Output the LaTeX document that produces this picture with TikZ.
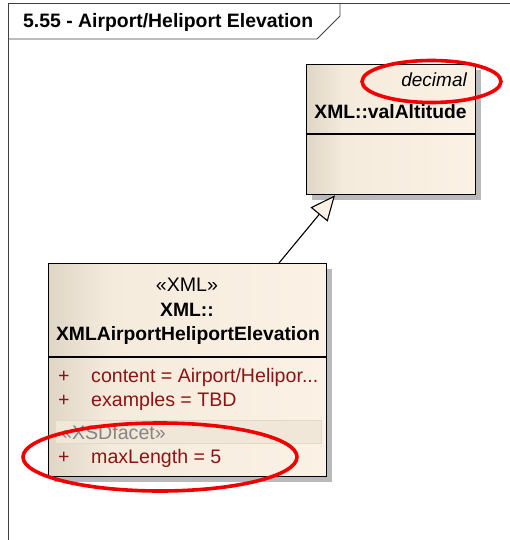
\documentclass[tikz,border=0pt]{standalone}
\usepackage{fontspec}
\setmainfont{Liberation Sans}
\usetikzlibrary{arrows.meta,calc,shadows}
\definecolor{boxleft}{HTML}{E0D6C6}
\definecolor{boxmid}{HTML}{F4EBDD}
\definecolor{boxright}{HTML}{FBF2E5}
\definecolor{attrred}{HTML}{8E1414}
\definecolor{facetfill}{HTML}{F0E7D9}
\definecolor{facetline}{HTML}{E2D9CA}
\definecolor{facetgray}{HTML}{858585}
\definecolor{framegray}{HTML}{404040}
\definecolor{markred}{HTML}{F00000}
% class body: darker strip on the left, light cream for the rest
\pgfdeclarehorizontalshading{classshade}{100bp}{color(0bp)=(boxleft); color(25bp)=(boxleft);
  color(36bp)=(boxmid); color(75bp)=(boxright); color(100bp)=(boxright)}
\newcommand{\namesize}{\fontsize{19.3}{23}\selectfont}
\newcommand{\attrsize}{\fontsize{19.6}{23}\selectfont}
\begin{document}
\begin{tikzpicture}[x=1pt,y=-1pt,
  classbox/.style={draw=black, line width=1.3pt, rectangle, inner sep=0pt,
    shading=classshade, anchor=north west,
    drop shadow={shadow xshift=5pt, shadow yshift=-5pt, fill=black!27, opacity=1}},
  nametext/.style={font=\namesize\bfseries, inner sep=0pt, anchor=base},
  plaintext/.style={font=\attrsize, inner sep=0pt},
  attrtext/.style={font=\attrsize, text=attrred, inner sep=0pt, anchor=base west},
  markring/.style={draw=markred, line width=3.6pt},
  framestroke/.style={draw=framegray, line width=0.9pt}]

\useasboundingbox (0,0) rectangle (510,540);

% diagram frame and its title tab
\draw[framestroke] (8,545) -- (8,3) -- (515,3);
\draw[framestroke] (8,39) -- (317,39) -- (340,16) -- (340,3);
\node[anchor=base west, font=\fontsize{19.4}{23}\selectfont\bfseries, inner sep=0pt]
  (title) at (23,27.3) {5.55 - Airport/Heliport Elevation};

% parent class
\node[classbox, minimum width=169pt, minimum height=130pt] (upper) at (306,64) {};
\draw[line width=1.3pt] ($(upper.north west)+(0,70)$) -- ($(upper.north east)+(0,70)$);
\node[plaintext, font=\fontsize{19}{23}\selectfont\itshape, anchor=base east] (uppertag) at (467,86.7) {decimal};
\node[nametext] (uppername) at (390.5,118.3) {XML::valAltitude};

% derived class
\node[classbox, minimum width=278pt, minimum height=213pt] (lower) at (48,263) {};
\draw[line width=1.3pt] ($(lower.north west)+(0,94)$) -- ($(lower.north east)+(0,94)$);
\node[plaintext, anchor=base] (stereo) at (187,291.7) {«XML»};
\node[nametext] (pkg) at (187,316.7) {XML::};
\node[nametext] (lowername) at (188,340) {XMLAirportHeliportElevation};

\node[attrtext] (p1) at (58,382.7) {+};
\node[attrtext] (a1) at (91,382.7) {content = Airport/Helipor...};
\node[attrtext] (p2) at (58,406.7) {+};
\node[attrtext] (a2) at (91,406.7) {examples = TBD};

\node[draw=facetline, fill=facetfill, line width=1pt, minimum width=266pt,
  minimum height=23pt, anchor=north west, inner sep=0pt] (facet) at (55,420) {};
\node[plaintext, text=facetgray, anchor=base west] (facetlabel) at (61,439) {«XSDfacet»};

\node[attrtext] (p3) at (58,463.3) {+};
\node[attrtext] (a3) at (91,463.3) {maxLength = 5};

% generalization
\draw[line width=1.1pt,
  -{Triangle[length=25pt, width=22pt, fill=boxright, line width=1.1pt]}]
  ($(lower.north west)+(231,0)$) -- ($(upper.south west)+(29,0)$);

% highlight rings
\draw[markring] (431.5,81.5) ellipse [x radius=69.5, y radius=21];
\draw[markring] (160,457) ellipse [x radius=137, y radius=34];
\end{tikzpicture}
\end{document}
